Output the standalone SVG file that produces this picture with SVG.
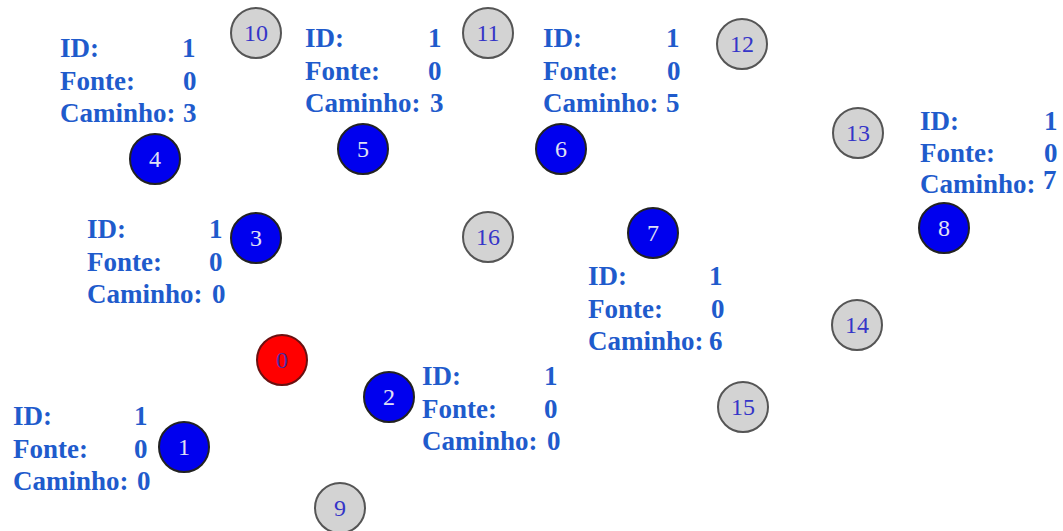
<svg xmlns="http://www.w3.org/2000/svg" width="1063" height="531" viewBox="0 0 1063 531">
<style>
.bg{fill:#ffffff}
.n circle{stroke:#222;stroke-width:2}
.blue circle{fill:#0000ee}
.gray circle{fill:#d3d3d3;stroke:#555}
.red circle{fill:#ff0000;stroke:#6a1010}
.num{font-family:"Liberation Serif",serif;font-size:24px;text-anchor:middle}
.blue .num{fill:#e0e0f4}
.gray .num{fill:#3535c8}
.red .num{fill:#4a2aa0}
.lbl{font-family:"Liberation Serif",serif;font-weight:bold;font-size:27px;fill:#1f5bcc}
</style>
<rect class="bg" x="0" y="0" width="1063" height="531"/>
<g id="connectors"></g>
<g id="node-0" class="n red"><circle cx="282" cy="360" r="25"/><text class="num" x="282" y="368">0</text></g>
<g id="node-1" class="n blue"><circle cx="184" cy="447" r="25"/><text class="num" x="184" y="455">1</text></g>
<g id="node-2" class="n blue"><circle cx="389" cy="397" r="25"/><text class="num" x="389" y="405">2</text></g>
<g id="node-3" class="n blue"><circle cx="256" cy="238" r="25"/><text class="num" x="256" y="246">3</text></g>
<g id="node-4" class="n blue"><circle cx="155" cy="159" r="25"/><text class="num" x="155" y="167">4</text></g>
<g id="node-5" class="n blue"><circle cx="363" cy="149" r="25"/><text class="num" x="363" y="157">5</text></g>
<g id="node-6" class="n blue"><circle cx="561" cy="149" r="25"/><text class="num" x="561" y="157">6</text></g>
<g id="node-7" class="n blue"><circle cx="653" cy="233" r="25"/><text class="num" x="653" y="241">7</text></g>
<g id="node-8" class="n blue"><circle cx="944" cy="228" r="25"/><text class="num" x="944" y="236">8</text></g>
<g id="node-9" class="n gray"><circle cx="340" cy="508" r="25"/><text class="num" x="340" y="516">9</text></g>
<g id="node-10" class="n gray"><circle cx="256" cy="33" r="25"/><text class="num" x="256" y="41">10</text></g>
<g id="node-11" class="n gray"><circle cx="488" cy="33" r="25"/><text class="num" x="488" y="41">11</text></g>
<g id="node-12" class="n gray"><circle cx="742" cy="44" r="25"/><text class="num" x="742" y="52">12</text></g>
<g id="node-13" class="n gray"><circle cx="858" cy="133" r="25"/><text class="num" x="858" y="141">13</text></g>
<g id="node-14" class="n gray"><circle cx="857" cy="325" r="25"/><text class="num" x="857" y="333">14</text></g>
<g id="node-15" class="n gray"><circle cx="743" cy="407" r="25"/><text class="num" x="743" y="415">15</text></g>
<g id="node-16" class="n gray"><circle cx="488" cy="237" r="25"/><text class="num" x="488" y="245">16</text></g>

<g id="label-4" class="lbl">
<text x="60" y="57">ID:</text><text x="182" y="57">1</text>
<text x="60" y="90">Fonte:</text><text x="183" y="90">0</text>
<text x="60" y="122">Caminho:</text><text x="183" y="122">3</text>
</g>
<g id="label-5" class="lbl">
<text x="305" y="47">ID:</text><text x="428" y="47">1</text>
<text x="305" y="80">Fonte:</text><text x="428" y="80">0</text>
<text x="305" y="112">Caminho:</text><text x="430" y="112">3</text>
</g>
<g id="label-6" class="lbl">
<text x="543" y="47">ID:</text><text x="666" y="47">1</text>
<text x="543" y="80">Fonte:</text><text x="667" y="80">0</text>
<text x="543" y="112">Caminho:</text><text x="666" y="112">5</text>
</g>
<g id="label-8" class="lbl">
<text x="920" y="130">ID:</text><text x="1044" y="130">1</text>
<text x="920" y="162">Fonte:</text><text x="1044" y="162">0</text>
<text x="920" y="193">Caminho:</text><text x="1043" y="189">7</text>
</g>
<g id="label-3" class="lbl">
<text x="87" y="238">ID:</text><text x="209" y="238">1</text>
<text x="87" y="271">Fonte:</text><text x="209" y="271">0</text>
<text x="87" y="303">Caminho:</text><text x="212" y="303">0</text>
</g>
<g id="label-7" class="lbl">
<text x="588" y="285">ID:</text><text x="709" y="285">1</text>
<text x="588" y="318">Fonte:</text><text x="711" y="318">0</text>
<text x="588" y="350">Caminho:</text><text x="709" y="350">6</text>
</g>
<g id="label-2" class="lbl">
<text x="422" y="385">ID:</text><text x="544" y="385">1</text>
<text x="422" y="418">Fonte:</text><text x="544" y="418">0</text>
<text x="422" y="450">Caminho:</text><text x="547" y="450">0</text>
</g>
<g id="label-1" class="lbl">
<text x="13" y="425">ID:</text><text x="134" y="425">1</text>
<text x="13" y="458">Fonte:</text><text x="134" y="458">0</text>
<text x="13" y="490">Caminho:</text><text x="137" y="490">0</text>
</g>
</svg>
